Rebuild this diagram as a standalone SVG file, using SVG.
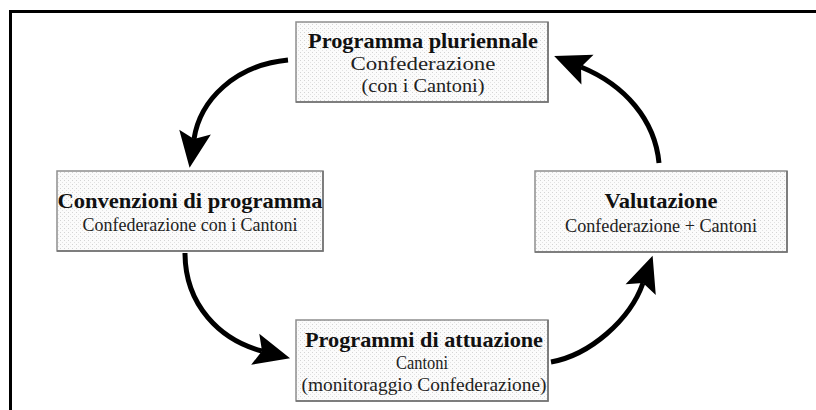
<svg xmlns="http://www.w3.org/2000/svg" width="816" height="410" viewBox="0 0 816 410">
<style>
.box{fill:url(#dots);stroke:#8e8e8e;stroke-width:1.5}
.sh{fill:none;stroke:#707070;stroke-width:1.5}
.t{font-family:"Liberation Serif","Times New Roman",serif;font-weight:bold;font-size:21px;fill:#111;text-anchor:middle}
.s{font-family:"Liberation Serif","Times New Roman",serif;font-size:18px;fill:#222;text-anchor:middle}
.arr{fill:none;stroke:#000;stroke-width:5;marker-end:url(#head)}
</style>
<defs>
<pattern id="dots" width="4" height="4" patternUnits="userSpaceOnUse">
<rect width="4" height="4" fill="#fbfbfb"/>
<rect x="0" y="0" width="1" height="1" fill="#d4d4d4"/>
<rect x="2" y="2" width="1" height="1" fill="#e2e2e2"/>
</pattern>
<marker id="head" markerUnits="userSpaceOnUse" viewBox="-10 -18 42 36" refX="0" refY="0" markerWidth="42" markerHeight="36" orient="auto" overflow="visible">
<path d="M29,0 L-7,-16 L0,0 L-7,16 Z" fill="#000"/>
</marker>
</defs>
<rect width="816" height="410" fill="#fff"/>
<path d="M10.5,410 V11.5 H816" fill="none" stroke="#000" stroke-width="3"/>
<g id="connectors">
<path class="arr" d="M288,60 C235,65 200,100 194,139"/>
<path class="arr" d="M185,253 C185,305 220,340 262,351"/>
<path class="arr" d="M551,362 C590,355 630,320 643,283"/>
<path class="arr" d="M659,163 C655,120 625,85 581,67"/>
</g>
<g id="node-pluriennale">
<rect class="box" x="296" y="22" width="252" height="80"/>
<path class="sh" d="M296,102 H548 V22"/>
<text class="t" x="423" y="48" textLength="230" lengthAdjust="spacingAndGlyphs">Programma pluriennale</text>
<text class="s" x="423" y="70" textLength="145" lengthAdjust="spacingAndGlyphs">Confederazione</text>
<text class="s" x="423" y="92" textLength="123" lengthAdjust="spacingAndGlyphs">(con i Cantoni)</text>
</g>
<g id="node-convenzioni">
<rect class="box" x="57" y="171" width="266" height="80"/>
<path class="sh" d="M57,251 H323 V171"/>
<text class="t" x="190" y="208" textLength="265" lengthAdjust="spacingAndGlyphs">Convenzioni di programma</text>
<text class="s" x="190" y="231" textLength="215" lengthAdjust="spacingAndGlyphs">Confederazione con i Cantoni</text>
</g>
<g id="node-valutazione">
<rect class="box" x="535" y="171" width="252" height="81"/>
<path class="sh" d="M535,252 H787 V171"/>
<text class="t" x="661" y="208" textLength="113" lengthAdjust="spacingAndGlyphs">Valutazione</text>
<text class="s" x="661" y="232" textLength="192" lengthAdjust="spacingAndGlyphs">Confederazione + Cantoni</text>
</g>
<g id="node-attuazione">
<rect class="box" x="296" y="320" width="252" height="81"/>
<path class="sh" d="M296,401 H548 V320"/>
<text class="t" x="424" y="347" textLength="238" lengthAdjust="spacingAndGlyphs">Programmi di attuazione</text>
<text class="s" x="422" y="369" textLength="52" lengthAdjust="spacingAndGlyphs">Cantoni</text>
<text class="s" x="424" y="391" textLength="245" lengthAdjust="spacingAndGlyphs">(monitoraggio Confederazione)</text>
</g>
</svg>
